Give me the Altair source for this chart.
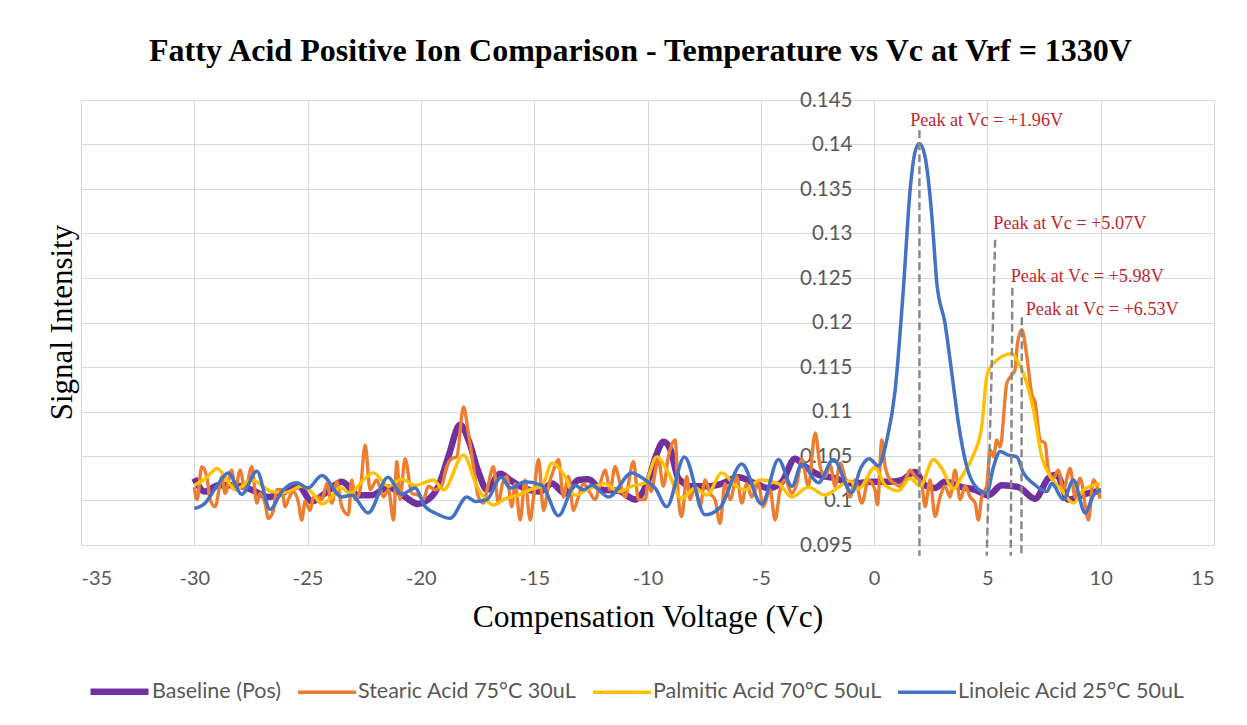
import altair as alt
import pandas as pd

series_names = ["Baseline (Pos)", "Stearic Acid 75°C 30uL", "Palmitic Acid 70°C 50uL", "Linoleic Acid 25°C 50uL"]
series_colors = ["#7030A0", "#ED7D31", "#FFC000", "#4472C4"]
series_widths = [6.5, 3.4, 3.4, 3.5]

baseline_x = [-30, -29.53, -28.94, -28.2, -27.46, -26.73, -25.99, -25.4, -24.81, -24.23, -23.49, -22.76, -22.17,
              -21.43, -20.7, -20.11, -19.8, -19.23, -18.79, -18.27, -17.9, -17.46, -17.09, -16.5, -16.06, -15.55,
              -14.74, -14.22, -13.64, -13.05, -12.61, -12.02, -11.28, -10.55, -9.96, -9.6, -9.3, -9.0, -8.64,
              -8.05, -7.31, -6.72, -5.99, -5.25, -4.66, -4.07, -3.49, -3.04, -2.46, -1.72, -0.98, -0.1, 0.63,
              1.22, 1.81, 2.25, 2.69, 3.13, 3.87, 4.46, 5.04, 5.64, 6.37, 7.1, 7.69, 8.06, 8.57, 9.17, 9.83, 10.0]
baseline_y = [0.1025, 0.1010, 0.1017, 0.1017, 0.1012, 0.1004, 0.1010, 0.1016, 0.0999, 0.1008, 0.1021, 0.1006, 0.1006,
              0.1015, 0.1004, 0.0996, 0.0999, 0.1016, 0.1049, 0.1085, 0.1068, 0.1032, 0.1012, 0.1030, 0.1023, 0.1015,
              0.1010, 0.1019, 0.1008, 0.1023, 0.1024, 0.1012, 0.1011, 0.1001, 0.1023, 0.1052, 0.1066, 0.1058, 0.1025,
              0.1016, 0.1016, 0.1019, 0.1026, 0.1019, 0.1014, 0.1021, 0.1047, 0.1038, 0.1029, 0.1025, 0.1019, 0.1021, 0.1021,
              0.1023, 0.1032, 0.1017, 0.1014, 0.1021, 0.1015, 0.1012, 0.1006, 0.1017, 0.1015, 0.1002, 0.1025, 0.1029, 0.1001, 0.1006, 0.1010, 0.1010]

stearic_x = [-30, -29.88, -29.67, -29.45, -29.3, -29.08, -28.78, -28.64, -28.35, -28.2, -27.98, -27.76, -27.46, -27.24,
             -27.1, -26.88, -26.73, -26.51, -26.36, -26.14, -25.99, -25.85, -25.63, -25.4, -25.26, -25.11, -24.89,
             -24.74, -24.52, -24.37, -24.15, -23.93, -23.71, -23.49, -23.2, -23.05, -22.9, -22.68, -22.46, -22.24,
             -21.95, -21.65, -21.43, -21.21, -21.06, -20.92, -20.7, -20.4, -20.11, -19.89, -19.67, -19.37, -19.08,
             -18.86, -18.64, -18.42, -18.12, -17.9, -17.68, -17.46, -17.24, -17.02, -16.8, -16.58, -16.4, -16.21,
             -15.99, -15.84, -15.62, -15.4, -15.18, -15.04, -14.81, -14.59, -14.37, -14.15, -13.93, -13.71, -13.49,
             -13.27, -13.05, -12.83, -12.61, -12.31, -12.09, -11.87, -11.65, -11.43, -11.21, -10.99, -10.62, -10.4,
             -10.1, -9.96, -9.85, -9.52, -9.3, -9.08, -8.78, -8.64, -8.49, -8.27, -8.12, -7.9, -7.68, -7.46, -7.24,
             -7.02, -6.8, -6.58, -6.35, -6.06, -5.84, -5.62, -5.4, -5.11, -4.89, -4.59, -4.37, -4.15, -3.93, -3.63,
             -3.41, -3.19, -2.9, -2.6, -2.38, -2.16, -1.94, -1.72, -1.5, -1.28, -1.06, -0.84, -0.54, -0.25, 0.04,
             0.15, 0.34, 0.49, 0.71, 0.93, 1.15, 1.37, 1.59, 1.81, 2.1, 2.25, 2.47, 2.69, 2.91, 3.13, 3.35, 3.57,
             3.8, 4.02, 4.24, 4.46, 4.6, 4.75, 4.97, 5.12, 5.27, 5.41, 5.56, 5.86, 6.08, 6.22, 6.33, 6.52, 6.74,
             6.96, 7.1, 7.33, 7.55, 7.69, 7.91, 8.13, 8.35, 8.65, 8.87, 9.09, 9.46, 9.68, 9.97]
stearic_y = [0.1015, 0.1001, 0.1038, 0.1027, 0.1001, 0.0993, 0.1027, 0.1008, 0.1034, 0.1012, 0.1034, 0.1012, 0.1038, 0.0997,
             0.1008, 0.0997, 0.0980, 0.0989, 0.1012, 0.1012, 0.0993, 0.1001, 0.1010, 0.0997, 0.0978, 0.0999, 0.0989,
             0.1004, 0.1004, 0.1001, 0.1019, 0.0997, 0.1021, 0.0993, 0.0984, 0.1023, 0.1001, 0.1012, 0.1062, 0.1012,
             0.1023, 0.1004, 0.1012, 0.0978, 0.1044, 0.1001, 0.1047, 0.1008, 0.1006, 0.1001, 0.1016, 0.1012, 0.1017,
             0.1038, 0.1047, 0.1049, 0.1105, 0.1075, 0.1038, 0.1004, 0.0997, 0.1019, 0.1038, 0.0997, 0.1019, 0.1027,
             0.0993, 0.1019, 0.0978, 0.1023, 0.0978, 0.1001, 0.1046, 0.0989, 0.1016, 0.1034, 0.1046, 0.1004, 0.1027,
             0.0989, 0.1004, 0.1019, 0.1012, 0.1001, 0.1019, 0.1034, 0.1012, 0.1038, 0.1019, 0.1004, 0.1044, 0.1001,
             0.1001, 0.1023, 0.1010, 0.1046, 0.1016, 0.1049, 0.1068, 0.1004, 0.0982, 0.1027, 0.1001, 0.1016, 0.0993, 0.1023, 0.1008,
             0.1001, 0.0974, 0.1019, 0.1001, 0.1027, 0.0997, 0.1019, 0.1004, 0.1019, 0.0993, 0.1012, 0.0978, 0.1012, 0.1023, 0.1008,
             0.1019, 0.1046, 0.1016, 0.1076, 0.1038, 0.1027, 0.1040, 0.1016, 0.1042, 0.1025, 0.1004, 0.1023, 0.0997, 0.1023, 0.1012,
             0.0995, 0.1068, 0.1038, 0.1023, 0.1019, 0.1016, 0.1023, 0.1034, 0.1027, 0.1019, 0.0993, 0.1023, 0.0982, 0.1004, 0.1016, 0.1004, 0.1034,
             0.1001, 0.1016, 0.1004, 0.0997, 0.0978, 0.1004, 0.1016, 0.1057, 0.1049, 0.1068, 0.1060, 0.1132, 0.1141, 0.1147, 0.1177, 0.1192, 0.1162,
             0.1119, 0.1111, 0.1068, 0.1064, 0.1034, 0.1025, 0.1034, 0.1012, 0.1036, 0.1004, 0.1025, 0.0978, 0.1023, 0.1002]

palmitic_x = [-30, -29.45, -29.0, -28.5, -28.2, -27.46, -26.58, -25.99, -25.26, -24.81, -24.37, -23.93, -23.57, -23.12,
              -22.54, -22.1, -21.43, -20.84, -20.26, -19.45, -19.0, -18.12, -17.53, -17.17, -16.8, -16.28, -15.7,
              -15.1, -14.66, -14.22, -13.64, -13.2, -12.61, -11.87, -11.28, -10.69, -10.1, -9.59, -9.08, -8.49,
              -7.9, -7.38, -6.72, -6.13, -5.69, -5.03, -4.22, -3.63, -2.9, -2.16, -1.58, -1.06, -0.69, 0.04, 0.49,
              1.07, 1.59, 2.03, 2.62, 2.99, 3.5, 3.87, 4.38, 4.75, 4.97, 5.19, 6.08, 6.3, 6.59, 7.03, 7.4, 7.77,
              8.21, 8.8, 9.24, 9.97]
palmitic_y = [0.1017, 0.1026, 0.1036, 0.1021, 0.1012, 0.1023, 0.1010, 0.1009, 0.1016, 0.1009, 0.0996, 0.1004, 0.1015, 0.1008,
              0.1023, 0.1031, 0.1016, 0.1024, 0.1017, 0.1023, 0.1012, 0.1051, 0.1016, 0.1002, 0.0995, 0.1002, 0.1006,
              0.1013, 0.1016, 0.1042, 0.1027, 0.1006, 0.1013, 0.1019, 0.1010, 0.1016, 0.1020, 0.1049, 0.1031, 0.1002,
              0.1014, 0.1006, 0.1031, 0.1017, 0.1012, 0.1023, 0.1019, 0.1004, 0.1015, 0.1006, 0.1015, 0.1022, 0.1013, 0.1037, 0.1017,
              0.1011, 0.1025, 0.1016, 0.1046, 0.1036, 0.1013, 0.1027, 0.1051, 0.1083, 0.1139, 0.1152, 0.1165, 0.1158, 0.1143, 0.1102, 0.1049, 0.1027,
              0.1014, 0.0997, 0.1012, 0.1019]

linoleic_x = [-30, -29.53, -29.01, -28.5, -27.9, -27.24, -26.65, -26.14, -25.48, -24.98, -24.37, -23.49, -23.05, -22.33,
              -21.45, -20.84, -20.26, -19.81, -19.37, -18.71, -17.97, -17.6, -17.09, -16.46, -16.06, -15.4, -14.66,
              -13.93, -13.2, -12.84, -12.46, -11.72, -10.69, -10.1, -9.66, -9.15, -8.37, -7.46, -6.8, -5.84, -4.96,
              -4.22, -3.63, -3.19, -2.46, -1.8, -0.98, -0.6, -0.22, 0.19, 0.56, 0.93, 1.29, 1.59, 1.81, 2.0, 2.25,
              2.55, 2.77, 3.13, 3.43, 3.72, 4.09, 4.53, 4.97, 5.27, 5.56, 5.93, 6.3, 6.59, 7.03, 7.62, 7.84, 8.35,
              8.8, 9.31, 9.68, 10.0]
linoleic_y = [0.0991, 0.0997, 0.1016, 0.1031, 0.1007, 0.1033, 0.0990, 0.1010, 0.1020, 0.1014, 0.1028, 0.1004, 0.1006, 0.0986,
              0.1026, 0.1007, 0.1014, 0.0993, 0.0986, 0.0980, 0.1004, 0.0999, 0.1001, 0.1026, 0.1014, 0.1021, 0.1017,
              0.0983, 0.1017, 0.1012, 0.1017, 0.1004, 0.1031, 0.1023, 0.1014, 0.0993, 0.1049, 0.0984, 0.0992, 0.1041, 0.0996,
              0.1046, 0.1016, 0.1041, 0.1020, 0.1046, 0.1009, 0.1036, 0.1047, 0.1039, 0.1068, 0.1124, 0.1237, 0.1349, 0.1392, 0.1401, 0.1386,
              0.1319, 0.1244, 0.1199, 0.1143, 0.1087, 0.1038, 0.1014, 0.1008, 0.1038, 0.1055, 0.1051, 0.1049, 0.1031, 0.1019, 0.1010, 0.1019, 0.1001,
              0.1023, 0.0986, 0.1006, 0.1012]

peak_labels = ["Peak at Vc = +1.96V", "Peak at Vc = +5.07V", "Peak at Vc = +5.98V", "Peak at Vc = +6.53V"]
label_x = [1.59, 5.26, 6.03, 6.69]
label_y = [0.1421, 0.1305, 0.1246, 0.1208]
marker_x_top = [2.0, 5.34, 6.10, 6.52]
marker_x_bottom = [2.0, 4.97, 6.03, 6.50]
marker_y_top = [0.1416, 0.1293, 0.1239, 0.1206]
marker_y_bottom = [0.0938, 0.0938, 0.0938, 0.0938]

x_ticks = [-35, -30, -25, -20, -15, -10, -5, 0, 5, 10, 15]
y_ticks = [0.095, 0.1, 0.105, 0.11, 0.115, 0.12, 0.125, 0.13, 0.135, 0.14, 0.145]

rows = []
for name, xs, ys in [(series_names[0], baseline_x, baseline_y), (series_names[1], stearic_x, stearic_y),
                     (series_names[2], palmitic_x, palmitic_y), (series_names[3], linoleic_x, linoleic_y)]:
    for xv, yv in zip(xs, ys):
        rows.append({"series": name, "x": xv, "y": yv})
df = pd.DataFrame(rows)

labels_df = pd.DataFrame({"x": label_x, "y": label_y, "text": peak_labels})
markers_df = pd.DataFrame({"x": marker_x_top, "x2": marker_x_bottom, "y": marker_y_top, "y2": marker_y_bottom})

xscale = alt.Scale(domain=[-35, 15], nice=False, zero=False)
yscale = alt.Scale(domain=[0.095, 0.145], nice=False, zero=False)

x_axis = alt.Axis(values=x_ticks, labelExpr="toString(datum.value)", title="Compensation Voltage (Vc)",
                  grid=True, gridColor="#d9d9d9", ticks=False, tickSize=0, domainColor="#d9d9d9",
                  labelColor="#595959", labelFont="Lato", labelFontSize=20, labelPadding=23,
                  titleFont="Liberation Serif", titleFontSize=31.5, titleFontWeight="normal",
                  titleColor="#000000", titlePadding=13)
y_axis = alt.Axis(values=y_ticks, labelExpr="toString(datum.value)", title="Signal Intensity",
                  grid=True, gridColor="#d9d9d9", ticks=False, tickSize=0, domain=False,
                  offset=-793, labelPadding=22, labelColor="#595959", labelFont="Lato", labelFontSize=20.5,
                  titleFont="Liberation Serif", titleFontSize=31, titleFontWeight="normal", titleColor="#000000",
                  titleX=-812, titleY=222, titleAngle=270, titleAlign="center", titleBaseline="middle")

lines = alt.Chart(df).mark_line(interpolate="monotone").encode(
    x=alt.X("x:Q", scale=xscale, axis=x_axis),
    y=alt.Y("y:Q", scale=yscale, axis=y_axis),
    color=alt.Color("series:N", sort=series_names,
                    scale=alt.Scale(domain=series_names, range=series_colors),
                    legend=alt.Legend(title=None, orient="none", legendX=6, legendY=559, direction="horizontal",
                                      symbolType="stroke", symbolSize=3364, labelFont="Lato", labelFontSize=21.5,
                                      labelColor="#595959", labelOffset=0, columnPadding=9, padding=0,
                                      labelLimit=400)),
    strokeWidth=alt.StrokeWidth("series:N", sort=series_names,
                                scale=alt.Scale(type="ordinal", domain=series_names, range=series_widths)),
)

markers = alt.Chart(markers_df).mark_rule(strokeDash=[8, 4], strokeWidth=2.5, color="#8a8a8a").encode(
    x=alt.X("x:Q", scale=xscale), x2="x2:Q",
    y=alt.Y("y:Q", scale=yscale), y2="y2:Q",
)

texts = alt.Chart(labels_df).mark_text(align="left", baseline="alphabetic", font="Liberation Serif",
                                       fontSize=18.2, color="#C1272D").encode(
    x=alt.X("x:Q", scale=xscale), y=alt.Y("y:Q", scale=yscale), text="text:N"
)

chart = alt.layer(lines, markers, texts).properties(
    width=1133, height=445,
    title=alt.TitleParams("Fatty Acid Positive Ion Comparison - Temperature vs Vc at Vrf = 1330V",
                          font="Liberation Serif", fontSize=32, fontWeight="bold", color="#000000",
                          anchor="middle", offset=22, dx=-7),
    autosize=alt.AutoSizeParams(type="none"),
    padding={"left": 73, "top": 92, "right": 25, "bottom": 172},
    background="white",
).configure_view(stroke=None)

chart.save("out.html", embed_options={"renderer": "svg", "actions": False})
